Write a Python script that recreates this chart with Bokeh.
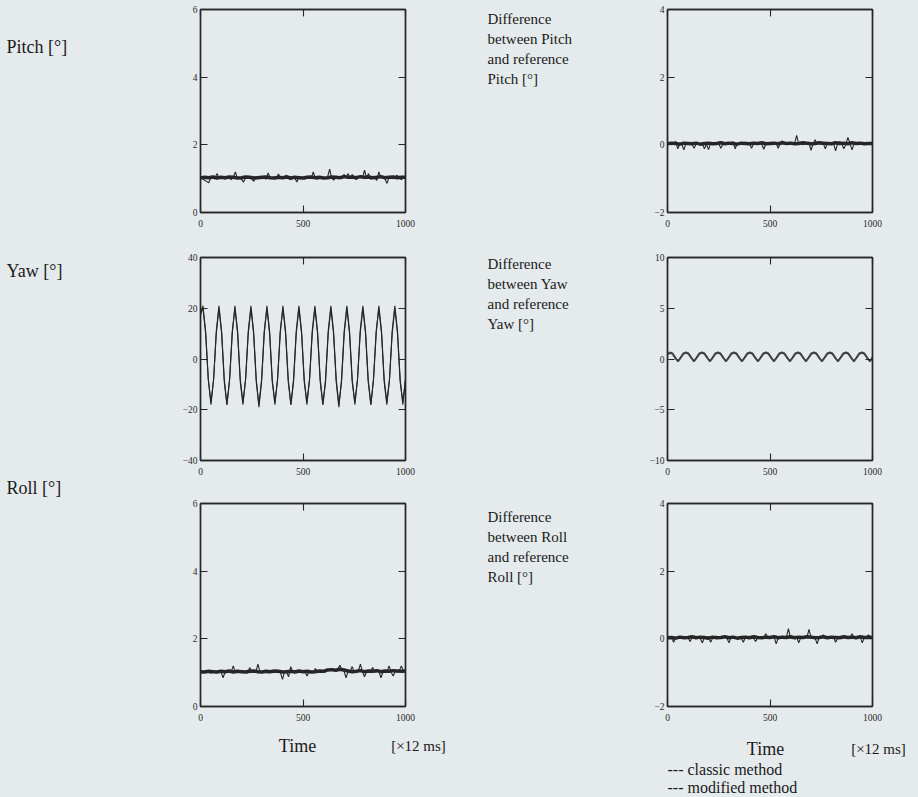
from bokeh.plotting import figure
from bokeh.layouts import row, column
from bokeh.models import LinearAxis, Range1d, FixedTicker, GlobalInlineStyleSheet
from bokeh.core.properties import value
from bokeh.embed import file_html
from bokeh.resources import INLINE

# ---------------- data ----------------
t10 = list(range(0, 1001, 10))   # sample index (x 12 ms)
t20 = list(range(0, 1001, 20))

x_ticks = [0, 500, 1000]
pitch_ticks = [0, 2, 4, 6]
yaw_ticks = [-40, -20, 0, 20, 40]
roll_ticks = [0, 2, 4, 6]
dpitch_ticks = [-2, 0, 2, 4]
dyaw_ticks = [-10, -5, 0, 5, 10]
droll_ticks = [-2, 0, 2, 4]

pitch_classic = [
    1.03, 1.01, 0.95, 0.92, 0.88, 1.02, 1.04, 1.00, 1.15, 1.03,
    1.01, 1.03, 0.99, 1.05, 1.02, 0.97, 1.04, 1.20, 1.01, 1.03,
    0.98, 0.90, 1.03, 1.05, 1.01, 0.99, 0.92, 1.04, 1.02, 1.06,
    1.00, 1.03, 0.98, 1.17, 1.02, 1.01, 1.04, 0.99, 1.14, 1.03,
    1.00, 1.05, 1.10, 1.01, 0.97, 1.03, 1.02, 0.90, 1.04, 1.01,
    1.03, 0.99, 1.02, 1.05, 1.00, 1.20, 1.02, 0.98, 1.04, 1.01,
    1.03, 1.00, 1.05, 1.28, 1.01, 0.96, 1.03, 1.02, 1.06, 0.99,
    1.13, 1.02, 1.15, 1.00, 1.12, 1.04, 0.97, 1.03, 1.05, 1.01,
    1.25, 1.03, 1.15, 0.98, 1.04, 1.02, 0.95, 1.20, 1.03, 1.01,
    0.99, 0.86, 1.04, 1.02, 1.00, 1.05, 1.10, 1.02, 0.97, 1.03,
    1.02]
pitch_modified = [
    1.02, 1.04, 1.03, 1.05, 1.02, 1.04, 1.03, 1.05, 1.04, 1.02,
    1.03, 1.05, 1.04, 1.02, 1.03, 1.04, 1.05, 1.03, 1.02, 1.04,
    1.03, 1.05, 1.02, 1.04, 1.03, 1.02, 1.04, 1.05, 1.03, 1.04,
    1.02, 1.03, 1.05, 1.04, 1.03, 1.06, 1.04, 1.05, 1.03, 1.06,
    1.04, 1.05, 1.03, 1.04, 1.06, 1.03, 1.04, 1.05, 1.03, 1.04,
    1.04]

dpitch_classic = [
    0.02, 0.05, 0.00, 0.04, 0.10, -0.12, 0.03, 0.01, -0.15, 0.04,
    0.02, 0.05, 0.00, -0.10, 0.03, 0.06, 0.01, 0.04, -0.12, 0.02,
    -0.14, 0.05, 0.03, 0.08, 0.01, 0.04, -0.10, 0.02, 0.06, 0.03,
    0.05, 0.01, 0.10, -0.12, 0.04, 0.02, 0.06, 0.03, 0.08, 0.01,
    0.04, -0.10, 0.03, 0.06, 0.02, 0.05, 0.01, -0.13, 0.04, 0.02,
    0.06, 0.03, 0.01, 0.05, -0.10, 0.04, 0.12, 0.02, 0.05, 0.03,
    0.01, 0.06, 0.04, 0.28, 0.02, 0.05, 0.00, 0.04, 0.03, 0.06,
    -0.16, 0.03, 0.15, 0.02, 0.05, 0.01, 0.04, -0.12, 0.06, 0.03,
    0.02, 0.05, -0.18, 0.03, 0.10, 0.04, -0.12, 0.02, 0.22, 0.05,
    -0.15, 0.03, 0.06, 0.01, 0.04, 0.02, 0.05, 0.03, 0.01, 0.04,
    0.03]
dpitch_modified = [
    0.03, 0.05, 0.04, 0.02, 0.05, 0.04, 0.03, 0.05, 0.02, 0.04,
    0.05, 0.03, 0.04, 0.06, 0.03, 0.05, 0.04, 0.02, 0.05, 0.04,
    0.03, 0.05, 0.04, 0.06, 0.03, 0.04, 0.05, 0.03, 0.06, 0.04,
    0.05, 0.03, 0.04, 0.06, 0.05, 0.03, 0.04, 0.06, 0.05, 0.04,
    0.03, 0.06, 0.04, 0.05, 0.03, 0.06, 0.04, 0.05, 0.03, 0.04,
    0.04]

roll_classic = [
    1.02, 1.00, 1.04, 1.01, 1.03, 0.98, 1.05, 1.02, 1.00, 1.04,
    1.03, 0.85, 1.02, 1.05, 1.01, 1.03, 1.20, 1.00, 1.04, 1.02,
    1.05, 1.01, 1.03, 0.99, 1.15, 1.02, 1.04, 1.01, 1.25, 1.03,
    1.00, 1.04, 1.02, 0.99, 1.05, 1.01, 1.03, 1.02, 1.04, 1.00,
    0.80, 1.03, 1.01, 0.88, 1.18, 1.02, 1.04, 1.00, 1.03, 1.05,
    1.01, 1.02, 0.90, 1.04, 1.02, 1.00, 1.12, 1.03, 1.05, 1.01,
    1.04, 1.02, 1.07, 1.09, 1.06, 1.10, 1.08, 1.11, 1.22, 1.07,
    1.05, 0.85, 1.03, 1.04, 1.18, 1.02, 1.00, 1.05, 1.25, 1.03,
    0.88, 1.04, 1.02, 1.05, 1.15, 1.01, 1.03, 1.04, 0.85, 1.02,
    1.05, 1.03, 1.20, 1.01, 0.90, 1.04, 1.02, 1.06, 1.20, 1.03,
    1.04]
roll_modified = [
    1.03, 1.02, 1.04, 1.03, 1.02, 1.04, 1.03, 1.05, 1.02, 1.04,
    1.03, 1.02, 1.04, 1.05, 1.03, 1.02, 1.04, 1.03, 1.05, 1.04,
    1.02, 1.03, 1.04, 1.02, 1.05, 1.03, 1.04, 1.02, 1.03, 1.05,
    1.04, 1.08, 1.09, 1.07, 1.10, 1.08, 1.05, 1.03, 1.04, 1.06,
    1.03, 1.05, 1.04, 1.06, 1.03, 1.05, 1.04, 1.06, 1.05, 1.04,
    1.05]

droll_classic = [
    0.02, 0.05, 0.03, -0.10, 0.04, 0.01, 0.06, 0.03, 0.05, 0.02,
    0.04, -0.08, 0.03, 0.06, 0.02, 0.05, 0.01, -0.12, 0.04, 0.03,
    0.06, -0.10, 0.02, 0.05, 0.08, 0.03, 0.01, 0.04, 0.06, 0.02,
    -0.12, 0.04, 0.03, 0.05, 0.01, 0.06, 0.03, -0.10, 0.04, 0.02,
    0.05, 0.03, 0.01, -0.08, 0.04, 0.06, 0.02, 0.05, 0.15, 0.03,
    0.01, 0.04, 0.06, -0.15, 0.02, 0.05, 0.03, 0.07, 0.04, 0.30,
    0.02, 0.05, 0.03, 0.06, -0.12, 0.04, 0.02, 0.05, 0.03, 0.28,
    0.04, 0.06, 0.02, -0.15, 0.05, 0.03, 0.12, 0.04, 0.01, 0.06,
    0.03, 0.05, -0.10, 0.02, 0.06, 0.04, 0.03, 0.05, 0.01, 0.04,
    0.15, 0.03, 0.05, 0.02, 0.06, -0.12, 0.04, 0.03, 0.12, 0.05,
    0.03]
droll_modified = [
    0.03, 0.04, 0.02, 0.05, 0.03, 0.04, 0.06, 0.03, 0.05, 0.04,
    0.02, 0.05, 0.03, 0.04, 0.06, 0.03, 0.05, 0.02, 0.04, 0.05,
    0.03, 0.06, 0.04, 0.03, 0.05, 0.04, 0.06, 0.03, 0.05, 0.04,
    0.06, 0.03, 0.05, 0.04, 0.06, 0.05, 0.03, 0.04, 0.06, 0.03,
    0.05, 0.04, 0.03, 0.06, 0.04, 0.05, 0.03, 0.06, 0.04, 0.05,
    0.04]

yaw_t = [0,
         12, 25, 38, 51, 64, 77,
         90, 103, 116, 129, 142, 155,
         168, 181, 194, 207, 220, 233,
         246, 259, 272, 285, 298, 311,
         324, 337, 350, 363, 376, 389,
         402, 415, 428, 441, 454, 467,
         480, 493, 506, 519, 532, 545,
         558, 571, 584, 597, 610, 623,
         636, 649, 662, 675, 688, 701,
         714, 727, 740, 753, 766, 779,
         792, 805, 818, 831, 844, 857,
         870, 883, 896, 909, 922, 935,
         948, 961, 974, 987, 1000]
yaw_classic = [17,
               21, 11, -8, -18, -8, 11,
               21, 11, -8, -18, -8, 11,
               20, 10, -9, -18, -8, 11,
               21, 11, -8, -19, -9, 10,
               21, 11, -8, -18, -8, 11,
               20, 10, -9, -18, -8, 11,
               21, 11, -8, -18, -8, 11,
               21, 11, -8, -18, -9, 10,
               20, 10, -9, -19, -8, 11,
               21, 11, -8, -18, -8, 11,
               21, 11, -8, -18, -8, 11,
               20, 10, -9, -18, -8, 11,
               21, 11, -8, -18, -8]
yaw_modified = [18,
                20, 10, -8, -17, -8, 10,
                20, 10, -9, -18, -8, 10,
                21, 11, -8, -17, -8, 10,
                20, 10, -9, -18, -8, 11,
                20, 10, -9, -17, -8, 10,
                21, 11, -8, -18, -9, 10,
                20, 10, -9, -17, -8, 10,
                20, 10, -9, -18, -8, 11,
                21, 11, -8, -18, -9, 10,
                20, 10, -9, -17, -8, 10,
                20, 10, -9, -18, -8, 10,
                21, 11, -8, -17, -8, 10,
                20, 10, -9, -17, -8]

dyaw_classic = [0.5,
                0.65, 0.55, 0.15, -0.25, 0.15, 0.55,
                0.65, 0.55, 0.15, -0.25, 0.15, 0.55,
                0.65, 0.55, 0.15, -0.25, 0.15, 0.55,
                0.65, 0.55, 0.15, -0.25, 0.15, 0.55,
                0.65, 0.55, 0.15, -0.25, 0.15, 0.55,
                0.65, 0.55, 0.15, -0.25, 0.15, 0.55,
                0.65, 0.55, 0.15, -0.25, 0.15, 0.55,
                0.65, 0.55, 0.15, -0.25, 0.15, 0.55,
                0.65, 0.55, 0.15, -0.25, 0.15, 0.55,
                0.65, 0.55, 0.15, -0.25, 0.15, 0.55,
                0.65, 0.55, 0.15, -0.25, 0.15, 0.55,
                0.65, 0.55, 0.15, -0.25, 0.15, 0.55,
                0.65, 0.55, 0.15, -0.25, 0.15]
dyaw_modified = [0.45,
                 0.6, 0.5, 0.1, -0.2, 0.1, 0.5,
                 0.6, 0.5, 0.1, -0.2, 0.1, 0.5,
                 0.6, 0.5, 0.1, -0.2, 0.1, 0.5,
                 0.6, 0.5, 0.1, -0.2, 0.1, 0.5,
                 0.6, 0.5, 0.1, -0.2, 0.1, 0.5,
                 0.6, 0.5, 0.1, -0.2, 0.1, 0.5,
                 0.6, 0.5, 0.1, -0.2, 0.1, 0.5,
                 0.6, 0.5, 0.1, -0.2, 0.1, 0.5,
                 0.6, 0.5, 0.1, -0.2, 0.1, 0.5,
                 0.6, 0.5, 0.1, -0.2, 0.1, 0.5,
                 0.6, 0.5, 0.1, -0.2, 0.1, 0.5,
                 0.6, 0.5, 0.1, -0.2, 0.1, 0.5,
                 0.6, 0.5, 0.1, -0.2, 0.1]

left_labels = ["Pitch [°]", "Yaw [°]", "Roll [°]"]
right_labels = [["Difference", "between Pitch", "and reference", "Pitch [°]"],
                ["Difference", "between Yaw", "and reference", "Yaw [°]"],
                ["Difference", "between Roll", "and reference", "Roll [°]"]]
time_label = "Time"
unit_label = "[×12 ms]"
legend_labels = ["--- classic method", "--- modified method"]

# ---------------- styling ----------------
BG = "#e5eaec"
INK = "#262626"
TXT = "#1a1a1a"
SERIF = "Liberation Serif"
FW, FH = 206, 203


def panel(width, left, right, top, bottom, yr, yticks):
    p = figure(width=width, height=top + FH + bottom,
               x_range=Range1d(0, 1000), y_range=Range1d(*yr),
               output_backend="svg", toolbar_location=None,
               x_axis_location="below", y_axis_location="left",
               min_border_left=left, min_border_right=right,
               min_border_top=top, min_border_bottom=bottom,
               background_fill_color=BG, border_fill_color=BG,
               outline_line_color=INK, outline_line_width=1.4)
    p.grid.visible = False
    bottom_ax = p.below[0]
    left_ax = p.left[0]
    bottom_ax.ticker = FixedTicker(ticks=x_ticks)
    left_ax.ticker = FixedTicker(ticks=yticks)
    top_ax = LinearAxis(ticker=FixedTicker(ticks=x_ticks))
    right_ax = LinearAxis(ticker=FixedTicker(ticks=yticks))
    p.add_layout(top_ax, "above")
    p.add_layout(right_ax, "right")
    for ax in [bottom_ax, left_ax, top_ax, right_ax]:
        ax.major_tick_in = 7
        ax.major_tick_out = 0
        ax.minor_tick_line_color = None
        ax.axis_line_color = INK
        ax.axis_line_width = 1.4
        ax.major_tick_line_color = INK
        ax.major_tick_line_width = 1.1
        ax.major_label_text_font = SERIF
        ax.major_label_text_font_size = "9.5px"
        ax.major_label_text_color = "#2a2a2a"
    for ax in [top_ax, right_ax]:
        ax.major_label_text_color = None
        ax.major_label_text_font_size = "0px"
        ax.major_label_standoff = 0
    bottom_ax.major_label_standoff = 7
    left_ax.major_label_standoff = 3
    return p


def text_fig(w, h):
    p = figure(width=w, height=h, x_range=Range1d(0, w), y_range=Range1d(h, 0),
               output_backend="svg", toolbar_location=None,
               x_axis_location=None, y_axis_location=None, min_border=0,
               min_border_left=0, min_border_right=0, min_border_top=0, min_border_bottom=0,
               background_fill_color=BG, border_fill_color=BG, outline_line_color=None)
    p.grid.visible = False
    return p


def put(p, xs, ys, texts, size, align="left"):
    p.text(x=xs, y=ys, text=texts, text_font=value(SERIF), text_font_size=value(size),
           text_color=TXT, text_align=align, text_baseline="middle")


# geometry (page pixels; the page has no margin)
TXT_L_W = 179
LW, LL, LR = 281, 20, 55          # left frame 199..405
TXT_R_W = 186
RW, RL, RR = 272, 20, 46          # right frame 666..872
rows = [(9, 24), (21, 22), (21, 24)]
COL_H = sum(t + FH + b for t, b in rows)   # 730
BOT_H = 66

yr = (0, 6)
p1 = panel(LW, LL, LR, rows[0][0], rows[0][1], yr, pitch_ticks)
p1.line(t20, pitch_modified, line_color=INK, line_width=3.5)
p1.line(t10, pitch_classic, line_color=INK, line_width=1.1)

yr = (-40, 40)
p2 = panel(LW, LL, LR, rows[1][0], rows[1][1], yr, yaw_ticks)
p2.line(yaw_t, yaw_modified, line_color=INK, line_width=1.1)
p2.line(yaw_t, yaw_classic, line_color=INK, line_width=1.1)

yr = (0, 6)
p3 = panel(LW, LL, LR, rows[2][0], rows[2][1], yr, roll_ticks)
p3.line(t20, roll_modified, line_color=INK, line_width=3.5)
p3.line(t10, roll_classic, line_color=INK, line_width=1.1)

yr = (-2, 4)
q1 = panel(RW, RL, RR, rows[0][0], rows[0][1], yr, dpitch_ticks)
q1.line(t20, dpitch_modified, line_color=INK, line_width=3.5)
q1.line(t10, dpitch_classic, line_color=INK, line_width=1.1)

yr = (-10, 10)
q2 = panel(RW, RL, RR, rows[1][0], rows[1][1], yr, dyaw_ticks)
q2.line(yaw_t, dyaw_modified, line_color="#444444", line_width=1.7)
q2.line(yaw_t, dyaw_classic, line_color="#444444", line_width=1.7)

yr = (-2, 4)
q3 = panel(RW, RL, RR, rows[2][0], rows[2][1], yr, droll_ticks)
q3.line(t20, droll_modified, line_color=INK, line_width=3.5)
q3.line(t10, droll_classic, line_color=INK, line_width=1.1)

# side label columns
txtL = text_fig(TXT_L_W, COL_H)
put(txtL, [6, 6, 6], [46, 270, 487], left_labels, "18px")

txtR = text_fig(TXT_R_W, COL_H)
for lines, y0 in zip(right_labels, [18, 263, 516]):
    put(txtR, [27] * 4, [y0 + 20 * i for i in range(4)], lines, "15px")

# bottom strip with axis titles and legend (full page width)
bot = text_fig(TXT_L_W + LW + TXT_R_W + RW, BOT_H)
put(bot, [297, 765], [15, 18], [time_label, time_label], "18px", "center")
put(bot, [418, 878], [15, 18], [unit_label, unit_label], "15px", "center")
put(bot, [667, 667], [39, 57], legend_labels, "16px", "left")

layout = column(row(txtL, column(p1, p2, p3), txtR, column(q1, q2, q3)), bot)
layout.stylesheets = [GlobalInlineStyleSheet(css="body { background: #e5eaec; }")]

open("out.html", "w").write(file_html(layout, INLINE))
